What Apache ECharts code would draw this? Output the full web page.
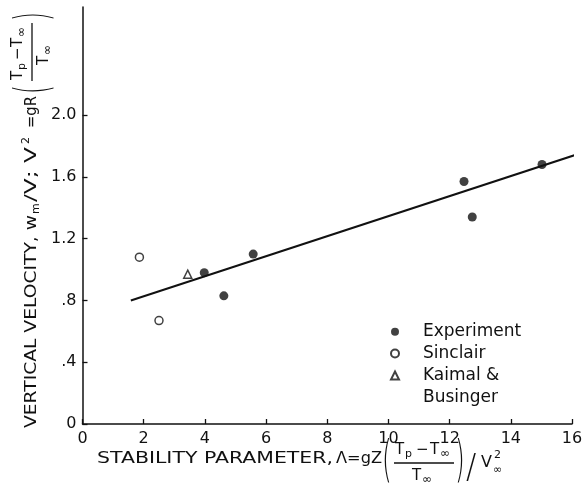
<!DOCTYPE html>
<html>
<head>
<meta charset="utf-8">
<script src="https://cdn.jsdelivr.net/npm/echarts@6/dist/echarts.min.js"></script>
<style>
html,body{margin:0;padding:0;background:#fff;}
#chart{width:588px;height:494px;}
</style>
</head>
<body>
<div id="chart"></div>
<script>
// ---- data ----
const xTickLabels = ['0','2','4','6','8','10','12','14','16'];
const yTickValues = [0, 0.4, 0.8, 1.2, 1.6, 2.0];
const yTickLabels = ['0', '.4', '.8', '1.2', '1.6', '2.0'];
const experiment = [[3.98, 0.98], [4.62, 0.83], [5.58, 1.10], [12.47, 1.57], [12.74, 1.34], [15.02, 1.68]];
const sinclair = [[1.86, 1.08], [2.50, 0.67]];
const kaimal = [[3.44, 0.97]];
const fitLine = [[1.58, 0.80], [16.23, 1.75]];
const seriesNames = ['Experiment', 'Sinclair', 'Kaimal & Businger'];

// ---- text helpers ----
const FONT = 'DejaVu Sans';
const LIGHT = '"DejaVu Sans ExtraLight", "DejaVu Sans Light", "Liberation Sans"';
const cv = document.createElement('canvas').getContext('2d');
function measure(t, size) { cv.font = size + 'px "' + FONT + '"'; return cv.measureText(t).width; }
function T(text, x, y, size, w, extra, fam) {
  const el = {
    type: 'text', x: x, y: y,
    scaleX: w ? w / measure(text, size) : 1,
    style: { text: text, fontSize: size, fontFamily: fam || FONT, fill: '#111', align: 'left', verticalAlign: 'middle' }
  };
  return Object.assign(el, extra || {});
}
function fracLine(x1, x2, y) {
  return { type: 'line', shape: { x1: x1, y1: y, x2: x2, y2: y }, style: { stroke: '#111', lineWidth: 1.3 } };
}

// x axis title (local coords, origin at left of text, vertical centre of main line)
const xTitle = {
  type: 'group', x: 97, y: 459,
  children: [
    T('STABILITY PARAMETER,', 0, 0, 16, 236),
    T('Λ=gZ', 239, 0, 16, 46),
    T('(', 285, 4, 50, 0, { scaleX: 0.5 }, LIGHT),
    T('T', 298, -9, 15, 0),
    T('p', 308, -5, 11, 0),
    T('−', 319, -9, 15, 0),
    T('T', 333, -9, 15, 0),
    T('∞', 343, -5, 12, 0),
    fracLine(297, 357, 4),
    T('T', 315, 17, 15, 0),
    T('∞', 325, 21, 12, 0),
    T(')', 358, 4, 50, 0, { scaleX: 0.5 }, LIGHT),
    T('/', 369, 10, 34, 0, { scaleX: 0.9 }, LIGHT),
    T('V', 384, 4, 16, 0),
    T('∞', 396, 11, 11, 0),
    T('2', 397, -4, 11, 0)
  ]
};

// y axis title (rotated, local x goes upward)
const yTitle = {
  type: 'group', x: 32, y: 428, rotation: Math.PI / 2,
  children: [
    T('VERTICAL VELOCITY, w', 0, 0, 16, 213),
    T('m', 214, 4, 11, 0),
    T('/V; V', 226, 0, 16, 55),
    T('2', 284, -6, 11, 0),
    T('=gR', 300, 0, 16, 32),
    T('(', 334, 3, 46, 0, { scaleX: 0.5 }, LIGHT),
    T('T', 348, -14, 15, 0),
    T('p', 358, -10, 11, 0),
    T('−', 368, -14, 15, 0),
    T('T', 381, -14, 15, 0),
    T('∞', 391, -10, 12, 0),
    fracLine(347, 405, 0),
    T('T', 363, 12, 15, 0),
    T('∞', 373, 16, 12, 0),
    T(')', 407, 3, 46, 0, { scaleX: 0.5 }, LIGHT)
  ]
};

const legendCommon = {
  orient: 'vertical', left: 390, padding: 0,
  itemWidth: 8, itemHeight: 8, itemGap: 0,
  textStyle: { fontSize: 17, color: '#111', lineHeight: 21.7, padding: [0, 0, 0, 19] }
};

const chart = echarts.init(document.getElementById('chart'));
chart.setOption({
  backgroundColor: '#fff',
  animation: false,
  textStyle: { fontFamily: FONT },
  grid: { left: 82.5, right: 16, top: 7, bottom: 70 },
  xAxis: {
    type: 'value', min: 0, max: 16, interval: 2,
    axisLine: { lineStyle: { color: '#111', width: 1.5 } },
    axisTick: { inside: true, length: 5, lineStyle: { color: '#111', width: 1.3 } },
    splitLine: { show: false },
    axisLabel: { color: '#111', fontSize: 16, margin: 7, formatter: (v) => xTickLabels[Math.round(v / 2)] }
  },
  yAxis: {
    type: 'value', min: 0, max: 2.7, interval: 0.4,
    axisLine: { show: true, lineStyle: { color: '#111', width: 1.5 } },
    axisTick: { show: true, inside: true, length: 5, customValues: yTickValues, lineStyle: { color: '#111', width: 1.3 } },
    splitLine: { show: false },
    axisLabel: {
      color: '#111', fontSize: 16, margin: 6, customValues: yTickValues,
      formatter: (v) => { const i = yTickValues.findIndex(t => Math.abs(t - v) < 1e-6); return i >= 0 ? yTickLabels[i] : ''; }
    }
  },
  legend: [
    Object.assign({}, legendCommon, { top: 321, data: [seriesNames[0], seriesNames[1]] }),
    Object.assign({}, legendCommon, {
      top: 343, data: [seriesNames[2]],
      formatter: () => '\nKaimal &\nBusinger'
    })
  ],
  graphic: [xTitle, yTitle],
  series: [
    {
      type: 'line', data: fitLine, symbol: 'none', clip: false, silent: true,
      lineStyle: { color: '#111', width: 2 }
    },
    {
      name: seriesNames[0], type: 'scatter', data: experiment, symbol: 'circle', symbolSize: 9,
      itemStyle: { color: '#111' }
    },
    {
      name: seriesNames[1], type: 'scatter', data: sinclair, symbol: 'circle', symbolSize: 8,
      itemStyle: { color: '#fff', borderColor: '#111', borderWidth: 1.5 }
    },
    {
      name: seriesNames[2], type: 'scatter', data: kaimal, symbol: 'triangle', symbolSize: 8,
      itemStyle: { color: '#fff', borderColor: '#111', borderWidth: 1.5 }
    }
  ]
});
</script>
</body>
</html>
